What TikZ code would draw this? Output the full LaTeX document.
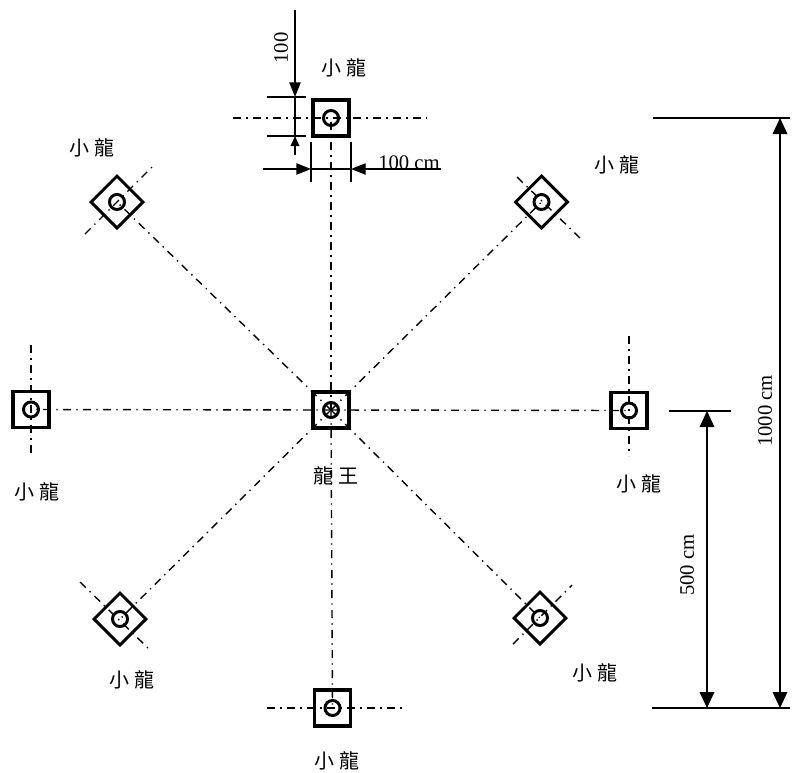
\documentclass[tikz,border=0pt]{standalone}
\usepackage{fontspec}
\setmainfont{Liberation Serif}
\newfontfamily\cjkfont{Noto Sans CJK TC}[Scale=1]
\usetikzlibrary{arrows.meta}
\tikzset{
  sq/.style={draw,rectangle,line width=2.6pt,minimum size=27pt,inner sep=0pt,outer sep=0pt},
  dm/.style={sq,rotate=45,line width=2.2pt,minimum size=27.5pt},
  hole/.style={draw,circle,line width=2.2pt,minimum size=11.3pt,inner sep=0pt,outer sep=0pt},
  axis/.style={line width=1.05pt,dash pattern=on 6pt off 4pt on 1pt off 4pt},
  dim/.style={line width=1pt},
  arr/.style={dim,-{Triangle[length=11pt,width=8.5pt]}},
  arrs/.style={dim,-{Triangle[length=7.5pt,width=6.5pt]}},
  arrb/.style={dim,{Triangle[length=12pt,width=11pt]}-{Triangle[length=12pt,width=11pt]}},
  lab/.style={font=\cjkfont\fontsize{15}{15}\selectfont,inner sep=0pt},
  num/.style={font=\fontsize{15.5}{16}\selectfont,inner sep=0pt},
}
\newcommand{\xl}{小\hspace{3.5pt}龍}
\newcommand{\wg}{龍\hspace{3.5pt}王}
\begin{document}
\begin{tikzpicture}[x=0.75pt,y=-0.75pt]
\useasboundingbox (0,0) rectangle (792,772);
% pieces
\node[sq] (top) at (331,118) {};
\node[sq] (cen) at (331,410) {};
\node[sq] (lef) at (31,409.5) {};
\node[sq] (rig) at (629,410.5) {};
\node[sq] (bot) at (332.5,708) {};
\node[dm] (nw) at (117,202) {};
\node[dm] (ne) at (541.5,202) {};
\node[dm] (sw) at (120,619) {};
\node[dm] (se) at (540,618) {};
\foreach \n in {top,cen,lef,rig,bot,nw,ne,sw,se}{\node[hole] (h\n) at (\n.center) {};}
% free ends of centre lines
\coordinate (tl) at (233,118); \coordinate (tr) at (427,118);
\coordinate (ll) at (31,345);  \coordinate (lb) at (31,456);
\coordinate (rt) at (629,336); \coordinate (rb) at (629,456);
\coordinate (bl) at (267,708); \coordinate (br) at (405,708);
\coordinate (nwa) at (85,234); \coordinate (nwb) at (154,165);
\coordinate (nea) at (517,177); \coordinate (neb) at (580,238);
\coordinate (swa) at (80,582); \coordinate (swb) at (148,648);
\coordinate (sea) at (513,644); \coordinate (seb) at (572,585);
% centre lines
\foreach \n in {top,lef,rig,bot,nw,ne,sw,se}{\draw[axis] (cen.center) -- (\n.center);}
\draw[axis] (tl) -- (tr);
\draw[axis] (ll) -- (lb);
\draw[axis] (rt) -- (rb);
\draw[axis] (bl) -- (br);
\draw[axis] (nwa) -- (nwb);
\draw[axis] (nea) -- (neb);
\draw[axis] (swa) -- (swb);
\draw[axis] (sea) -- (seb);
% dimensions at the top piece
\coordinate (e1a) at (267,97);  \coordinate (e1b) at (306,97);
\coordinate (e2a) at (267,136); \coordinate (e2b) at (306,136);
\coordinate (v0) at (295,10); \coordinate (v1) at (295,97);
\coordinate (v2) at (295,136); \coordinate (v3) at (295,155);
\coordinate (e3a) at (311,142); \coordinate (e3b) at (311,182);
\coordinate (e4a) at (351,142); \coordinate (e4b) at (351,182);
\coordinate (h0) at (263,169); \coordinate (h1) at (311,169);
\coordinate (h2) at (351,169); \coordinate (h3) at (441,169);
\draw[dim] (e1a) -- (e1b);
\draw[dim] (e2a) -- (e2b);
\draw[dim] (e3a) -- (e3b);
\draw[dim] (e4a) -- (e4b);
\draw[arr] (v0) -- (v1);
\draw[dim] (v1) -- (v2);
\draw[arrs] (v3) -- (v2);
\draw[arr] (h0) -- (h1);
\draw[dim] (h1) -- (h2);
\draw[arr] (h3) -- (h2);
% overall dimensions
\coordinate (o1a) at (653,118); \coordinate (o1b) at (790,118);
\coordinate (o2a) at (652,708); \coordinate (o2b) at (790,708);
\coordinate (o3a) at (669,411); \coordinate (o3b) at (731,411);
\coordinate (p1a) at (780,118); \coordinate (p1b) at (780,708);
\coordinate (p2a) at (707,411); \coordinate (p2b) at (707,708);
\draw[dim] (o1a) -- (o1b);
\draw[dim] (o2a) -- (o2b);
\draw[dim] (o3a) -- (o3b);
\draw[arrb] (p1a) -- (p1b);
\draw[arrb] (p2a) -- (p2b);
% texts
\node[num,rotate=90] (t100) at (281,48) {100};
\node[num,anchor=base] (t100cm) at (409,169) {100 cm};
\node[num,rotate=90] (t1000) at (765,411) {1000 cm};
\node[num,rotate=90] (t500) at (687,565) {500 cm};
\node[lab] (l1) at (344,68) {\xl};
\node[lab] (l2) at (92,148) {\xl};
\node[lab] (l3) at (617,165) {\xl};
\node[lab] (l4) at (37,492) {\xl};
\node[lab] (l5) at (639,484) {\xl};
\node[lab] (l6) at (132,680) {\xl};
\node[lab] (l7) at (595,673) {\xl};
\node[lab] (l8) at (337,761) {\xl};
\node[lab] (l9) at (336,476) {\wg};
\end{tikzpicture}
\end{document}
